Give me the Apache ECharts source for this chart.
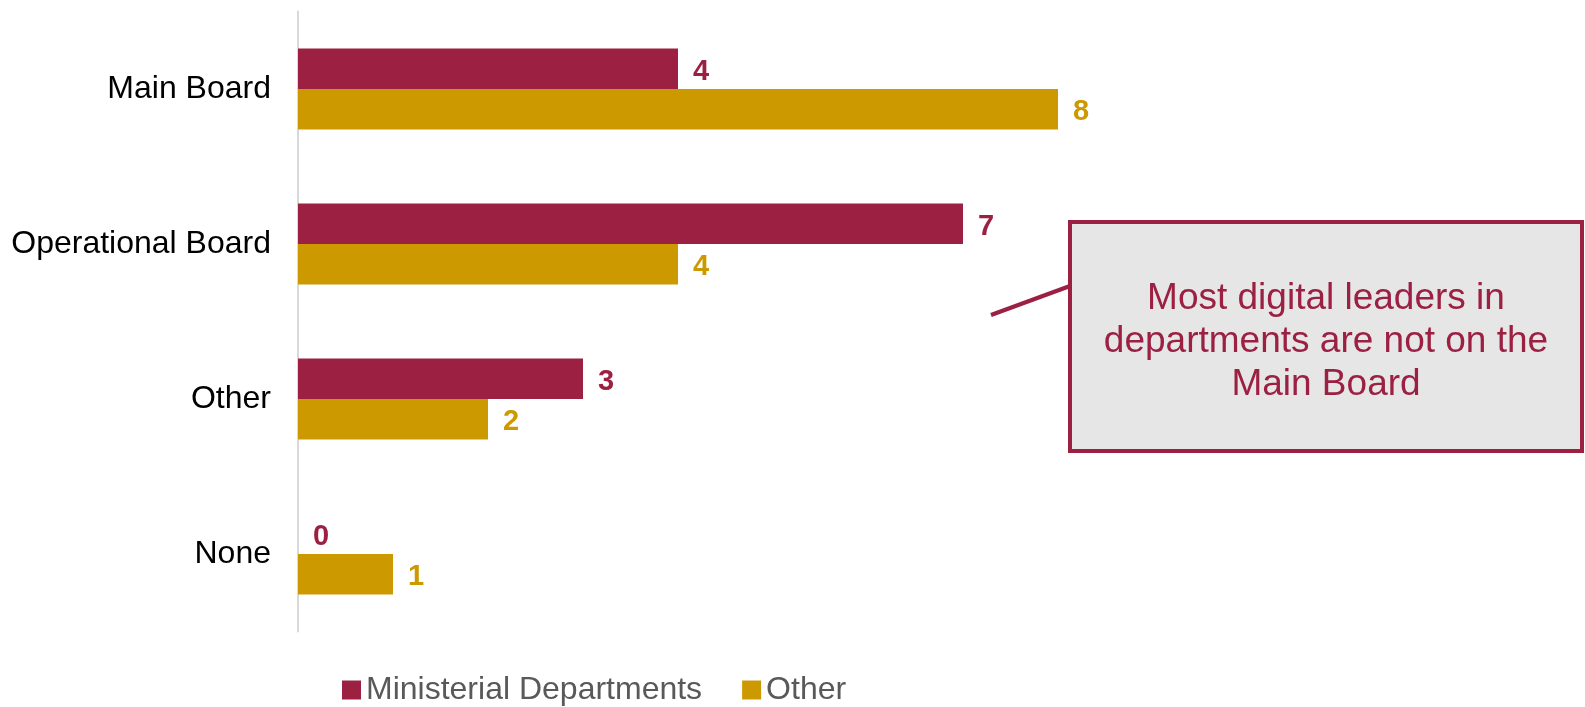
<!DOCTYPE html>
<html>
<head>
<meta charset="utf-8">
<title>Digital leaders board membership</title>
<script src="https://cdn.jsdelivr.net/npm/echarts@6/dist/echarts.min.js"></script>
<style>
  html, body { margin: 0; padding: 0; background: #ffffff; }
  #chart { width: 1585px; height: 707px; }
</style>
</head>
<body>
<div id="chart"></div>
<script>
// Board level of digital leaders, by type of organisation
const categories = ['Main Board', 'Operational Board', 'Other', 'None'];
const ministerialDepartments = [4, 7, 3, 0];
const otherOrganisations = [8, 4, 2, 1];
const seriesNames = ['Ministerial Departments', 'Other'];
const calloutLines = ['Most digital leaders in', 'departments are not on the', 'Main Board'];

const CRIMSON = '#9B2042';
const GOLD = '#CC9900';
const FONT = '"Liberation Sans", Arial, sans-serif';

const chart = echarts.init(document.getElementById('chart'));

function valueLabel(color) {
  return {
    show: true,
    position: 'right',
    distance: 15,
    offset: [0, 3],
    color: color,
    fontFamily: FONT,
    fontWeight: 'bold',
    fontSize: 29
  };
}

chart.setOption({
  animation: false,
  backgroundColor: '#ffffff',
  grid: { left: 298, right: 147, top: 11.5, bottom: 75.5, containLabel: false },
  legend: {
    data: seriesNames,
    left: 337,
    top: 669,
    icon: 'rect',
    itemWidth: 19,
    itemHeight: 19,
    itemGap: 40,
    textStyle: { color: '#595959', fontFamily: FONT, fontSize: 32 }
  },
  xAxis: {
    type: 'value',
    min: 0,
    max: 12,
    show: false
  },
  yAxis: {
    type: 'category',
    data: categories,
    inverse: true,
    axisLine: { show: true, lineStyle: { color: '#D9D9D9', width: 2 } },
    axisTick: { show: false },
    axisLabel: { color: '#000000', fontFamily: FONT, fontSize: 32, margin: 27, padding: [5, 0, 0, 0] },
    splitLine: { show: false }
  },
  series: [
    {
      name: seriesNames[0],
      type: 'bar',
      data: ministerialDepartments,
      barWidth: 40.5,
      barGap: '0%',
      itemStyle: { color: CRIMSON },
      label: valueLabel(CRIMSON)
    },
    {
      name: seriesNames[1],
      type: 'bar',
      data: otherOrganisations,
      barWidth: 40.5,
      barGap: '0%',
      itemStyle: { color: GOLD },
      label: valueLabel(GOLD)
    }
  ],
  graphic: [
    {
      type: 'line',
      shape: { x1: 991, y1: 315, x2: 1070, y2: 286 },
      style: { stroke: CRIMSON, lineWidth: 4 },
      z: 10
    },
    {
      type: 'rect',
      shape: { x: 1070, y: 222, width: 512, height: 229 },
      style: { fill: '#E6E6E6', stroke: CRIMSON, lineWidth: 4 },
      z: 11
    },
    {
      type: 'text',
      x: 1326,
      y: 342,
      style: {
        text: calloutLines.join('\n'),
        fill: CRIMSON,
        font: '37px ' + FONT,
        lineHeight: 43,
        align: 'center',
        verticalAlign: 'middle'
      },
      z: 12
    }
  ]
});
</script>
</body>
</html>
